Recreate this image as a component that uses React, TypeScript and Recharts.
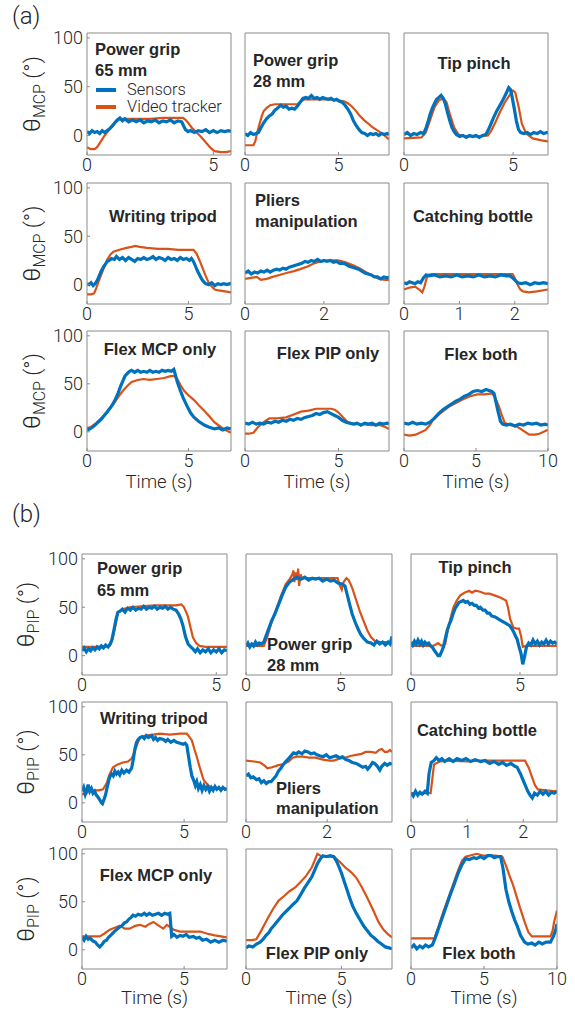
import { LineChart, Line, XAxis, YAxis, Legend } from "recharts";

// ---- data: [time (s), angle (deg)] ----

// (a) MCP joint
const aGrip65Sensors = [[0,4],[0.1,2],[0.2,5],[0.3,3],[0.4,4],[0.5,2],[0.6,5],[0.7,3],[0.8,5],[0.9,7],[1.0,10],[1.1,13],[1.2,16],[1.3,18],[1.4,15],[1.5,17],[1.65,14],[1.8,16],[1.95,14],[2.1,16],[2.25,13],[2.4,15],[2.55,14],[2.7,16],[2.85,13],[3.0,15],[3.15,14],[3.3,16],[3.45,13],[3.6,15],[3.75,14],[3.82,10],[3.9,6],[4.0,4],[4.1,5],[4.25,3],[4.4,5],[4.55,4],[4.7,6],[4.85,3],[5.0,5],[5.15,3],[5.3,5],[5.45,4],[5.6,5],[5.7,4]];
const aGrip65Video = [[0,-12],[0.15,-14],[0.3,-14],[0.4,-12],[0.55,-6],[0.7,0],[0.85,5],[1.0,9],[1.15,14],[1.3,17],[1.5,17],[2,17],[2.5,17],[3,18],[3.5,18],[3.8,18],[3.9,16],[4.0,13],[4.15,8],[4.3,4],[4.5,-1],[4.7,-7],[4.9,-13],[5.05,-16],[5.3,-17],[5.5,-17],[5.7,-16]];

const aGrip28Sensors = [[0,2],[0.15,0],[0.3,3],[0.45,1],[0.6,2],[0.72,3],[0.85,8],[1.0,13],[1.15,17],[1.3,20],[1.45,22],[1.6,26],[1.75,28],[1.9,31],[2.05,29],[2.2,30],[2.35,27],[2.5,28],[2.65,27],[2.8,30],[2.95,34],[3.1,38],[3.25,39],[3.4,38],[3.55,41],[3.7,38],[3.85,39],[4.0,37],[4.15,39],[4.3,38],[4.45,37],[4.6,38],[4.75,36],[4.9,37],[5.05,35],[5.2,34],[5.35,31],[5.5,27],[5.65,22],[5.8,15],[5.95,10],[6.1,6],[6.25,3],[6.4,2],[6.55,0],[6.7,2],[6.85,1],[7.0,2],[7.15,0],[7.3,2],[7.45,1],[7.6,2],[7.7,1]];
const aGrip28Video = [[0,-10],[0.3,-10],[0.45,-10],[0.55,-6],[0.65,3],[0.75,10],[0.9,20],[1.0,25],[1.15,28],[1.35,31],[1.6,32],[2.0,32],[2.4,32],[2.8,32],[3.0,35],[3.2,37],[3.5,37],[4.0,37],[4.5,37],[5.0,36],[5.3,35],[5.5,33],[5.7,30],[5.9,26],[6.1,21],[6.35,16],[6.6,12],[6.85,8],[7.1,5],[7.4,1],[7.7,-4]];

const aTipSensors = [[0,1],[0.15,3],[0.3,0],[0.45,2],[0.6,1],[0.75,3],[0.9,2],[1.0,7],[1.1,14],[1.2,22],[1.3,28],[1.4,33],[1.5,37],[1.6,39],[1.7,41],[1.8,38],[1.9,32],[2.0,23],[2.1,15],[2.2,8],[2.3,4],[2.4,1],[2.55,-1],[2.7,0],[2.85,-2],[3.0,0],[3.15,-1],[3.3,0],[3.45,-2],[3.6,0],[3.75,1],[3.85,5],[3.95,10],[4.1,18],[4.25,25],[4.4,31],[4.55,37],[4.7,44],[4.8,49],[4.88,47],[4.95,40],[5.05,28],[5.15,15],[5.25,6],[5.35,3],[5.5,2],[5.65,3],[5.8,1],[5.95,3],[6.1,2],[6.25,4],[6.4,2],[6.55,3],[6.6,3]];
const aTipVideo = [[0,-3],[0.8,-2],[1.0,3],[1.2,16],[1.4,29],[1.6,36],[1.8,38],[1.95,34],[2.1,22],[2.3,8],[2.5,1],[2.8,-1],[3.5,-1],[3.85,0],[4.0,5],[4.2,14],[4.4,24],[4.6,33],[4.8,40],[5.0,46],[5.1,44],[5.25,30],[5.4,12],[5.6,2],[5.9,-3],[6.3,-5],[6.6,-6]];

const aWriteSensors = [[0,1],[0.1,0],[0.2,2],[0.3,-1],[0.4,1],[0.5,4],[0.6,9],[0.7,14],[0.8,18],[0.9,21],[1.0,24],[1.1,25],[1.2,27],[1.35,26],[1.45,29],[1.6,26],[1.75,28],[1.9,25],[2.05,28],[2.2,26],[2.35,24],[2.5,27],[2.65,26],[2.8,28],[2.95,26],[3.1,27],[3.25,29],[3.4,26],[3.55,28],[3.7,27],[3.85,25],[4.0,28],[4.15,26],[4.3,27],[4.45,25],[4.6,28],[4.75,26],[4.9,27],[5.05,25],[5.15,27],[5.25,24],[5.35,19],[5.45,14],[5.55,10],[5.65,6],[5.75,3],[5.85,1],[6.0,0],[6.15,2],[6.3,-1],[6.45,1],[6.6,0],[6.75,1],[6.9,0],[7.05,1],[7.1,0]];
const aWriteVideo = [[0,-10],[0.2,-10],[0.35,-9],[0.45,-4],[0.55,2],[0.7,10],[0.85,18],[1.0,26],[1.15,31],[1.3,34],[1.6,36],[1.95,38],[2.2,39],[2.37,40],[2.6,39],[2.95,38],[3.5,37],[4.0,37],[4.5,36],[5.0,36],[5.25,36],[5.4,32],[5.55,25],[5.7,17],[5.85,9],[6.0,2],[6.15,-2],[6.3,-5],[6.5,-6],[6.8,-7],[7.1,-8]];

const aPliersSensors = [[0,12],[0.08,14],[0.16,11],[0.24,13],[0.32,12],[0.4,14],[0.48,13],[0.56,15],[0.64,13],[0.72,15],[0.8,16],[0.88,15],[0.96,17],[1.04,16],[1.12,18],[1.2,19],[1.28,20],[1.36,21],[1.44,22],[1.52,24],[1.6,23],[1.68,25],[1.76,24],[1.84,26],[1.92,24],[2.0,25],[2.08,24],[2.16,25],[2.24,23],[2.32,24],[2.4,22],[2.48,22],[2.56,21],[2.64,19],[2.72,18],[2.8,17],[2.88,16],[2.96,14],[3.04,12],[3.12,11],[3.2,10],[3.28,8],[3.36,8],[3.44,6],[3.52,8],[3.6,7],[3.65,8]];
const aPliersVideo = [[0,6],[0.15,7],[0.3,8],[0.4,5],[0.55,6],[0.7,8],[0.87,10],[1.05,12],[1.24,14],[1.4,16],[1.6,19],[1.75,22],[1.9,24],[2.1,25],[2.36,25],[2.55,23],[2.74,20],[2.9,17],[3.1,12],[3.25,9],[3.4,6],[3.55,5],[3.65,5]];

const aBottleSensors = [[0,2],[0.05,1],[0.1,3],[0.15,2],[0.2,1],[0.25,3],[0.3,2],[0.35,7],[0.4,10],[0.45,9],[0.55,10],[0.65,8],[0.75,9],[0.85,8],[0.95,10],[1.05,8],[1.15,9],[1.25,8],[1.35,10],[1.45,8],[1.55,9],[1.65,8],[1.75,10],[1.85,9],[1.92,9],[1.98,6],[2.05,2],[2.12,1],[2.2,2],[2.28,0],[2.36,2],[2.44,1],[2.52,2],[2.6,1]];
const aBottleVideo = [[0,-5],[0.1,-3],[0.2,-2],[0.27,-5],[0.33,-8],[0.37,-2],[0.4,5],[0.43,10],[0.5,11],[0.8,11],[1.2,11],[1.6,11],[1.96,11],[2.0,7],[2.05,0],[2.1,-5],[2.15,-7],[2.25,-8],[2.4,-7],[2.6,-5]];

const aFlexMcpSensors = [[0,2],[0.15,3],[0.28,5],[0.4,7],[0.55,10],[0.7,13],[0.85,17],[1.0,21],[1.15,25],[1.28,29],[1.4,34],[1.53,40],[1.65,47],[1.77,53],[1.87,58],[2.0,61],[2.1,63],[2.2,64],[2.35,62],[2.5,64],[2.65,62],[2.8,63],[2.95,62],[3.1,64],[3.25,62],[3.4,63],[3.55,62],[3.7,64],[3.85,63],[4.0,64],[4.15,63],[4.28,65],[4.35,60],[4.45,52],[4.6,43],[4.75,35],[4.95,26],[5.1,20],[5.28,15],[5.5,11],[5.78,7],[6.0,5],[6.28,3],[6.5,4],[6.7,2],[6.9,4],[7.1,3]];
const aFlexMcpVideo = [[0,4],[0.2,5],[0.45,9],[0.7,14],[0.95,19],[1.15,25],[1.37,31],[1.6,38],[1.78,43],[2.0,48],[2.2,52],[2.5,54],[2.78,55],[3.1,54],[3.45,55],[3.8,56],[4.12,58],[4.3,58],[4.45,55],[4.6,49],[4.78,43],[5.0,38],[5.28,33],[5.5,28],[5.78,22],[6.0,17],[6.28,10],[6.6,5],[6.9,1],[7.1,-1]];

const aFlexPipSensors = [[0,9],[0.2,8],[0.4,10],[0.6,8],[0.8,9],[1.0,8],[1.2,10],[1.4,9],[1.6,11],[1.8,10],[2.0,12],[2.2,11],[2.4,13],[2.6,12],[2.8,14],[3.0,13],[3.2,15],[3.4,16],[3.6,17],[3.8,19],[4.0,18],[4.2,20],[4.4,21],[4.6,19],[4.8,17],[5.0,15],[5.2,12],[5.4,10],[5.6,9],[5.8,8],[6.0,9],[6.2,7],[6.4,9],[6.6,8],[6.8,9],[7.0,7],[7.2,9],[7.4,8],[7.6,9],[7.7,8]];
const aFlexPipVideo = [[0,-2],[0.2,-2],[0.45,-1],[0.7,5],[1.0,10],[1.3,14],[1.7,14],[2.2,15],[2.6,18],[3.0,21],[3.4,22],[3.8,24],[4.2,24],[4.6,24],[4.8,23],[5.0,20],[5.25,15],[5.5,10],[5.8,8],[6.3,8],[6.8,7],[7.2,7],[7.5,5],[7.7,3]];

const aFlexBothSensors = [[0,9],[0.3,8],[0.6,10],[0.9,8],[1.2,9],[1.5,8],[1.8,10],[2.1,14],[2.4,19],[2.7,23],[3.0,26],[3.3,29],[3.6,32],[3.9,34],[4.2,37],[4.5,39],[4.8,42],[5.1,43],[5.4,42],[5.7,44],[5.9,43],[6.1,42],[6.25,40],[6.4,30],[6.55,20],[6.7,11],[6.85,8],[7.1,7],[7.4,8],[7.7,6],[8.0,8],[8.3,7],[8.6,9],[8.9,8],[9.2,9],[9.5,7],[9.8,8],[10,7]];
const aFlexBothVideo = [[0,-3],[0.4,-4],[0.8,-3],[1.1,-1],[1.5,2],[1.8,7],[2.0,12],[2.5,19],[3.1,26],[3.6,30],[4.1,34],[4.6,37],[5.1,39],[5.6,39],[6.1,40],[6.3,37],[6.6,26],[6.8,17],[7.0,9],[7.4,7],[7.9,5],[8.3,1],[8.7,-3],[9.1,-3],[9.4,-2],[9.7,0],[10,2]];

// (b) PIP joint
const bGrip65Sensors = [[0,5],[0.08,8],[0.16,4],[0.24,7],[0.32,5],[0.4,8],[0.48,6],[0.56,9],[0.64,7],[0.72,10],[0.8,8],[0.88,11],[0.97,9],[1.05,12],[1.12,17],[1.2,28],[1.27,38],[1.34,45],[1.42,46],[1.5,48],[1.6,45],[1.7,49],[1.8,47],[1.9,50],[2.0,47],[2.1,49],[2.2,48],[2.3,51],[2.4,48],[2.5,50],[2.6,49],[2.7,51],[2.8,48],[2.9,50],[3.0,49],[3.1,51],[3.2,48],[3.3,50],[3.4,48],[3.5,47],[3.6,43],[3.68,38],[3.76,31],[3.85,20],[3.95,12],[4.05,9],[4.13,7],[4.22,4],[4.3,7],[4.4,3],[4.5,6],[4.6,4],[4.7,7],[4.8,3],[4.9,6],[5.0,4],[5.1,7],[5.2,3],[5.3,6],[5.4,5]];
const bGrip65Video = [[0,9],[0.5,9],[1.03,10],[1.1,14],[1.15,19],[1.25,32],[1.34,45],[1.5,48],[1.77,50],[2.2,51],[2.7,52],[3.2,52],[3.5,52],[3.7,53],[3.8,50],[3.88,45],[3.95,40],[4.05,28],[4.13,19],[4.25,13],[4.38,10],[4.6,9],[5.0,9],[5.4,9]];

const bGrip28Sensors = [[0,10],[0.1,13],[0.2,9],[0.3,12],[0.4,10],[0.5,14],[0.6,11],[0.7,13],[0.8,12],[0.94,14],[1.05,20],[1.2,28],[1.35,36],[1.52,43],[1.7,52],[1.9,62],[2.1,71],[2.3,76],[2.5,79],[2.69,81],[2.9,79],[3.1,81],[3.3,78],[3.5,80],[3.66,79],[3.85,80],[4.05,77],[4.25,79],[4.45,77],[4.64,78],[4.85,75],[5.05,74],[5.22,72],[5.35,62],[5.48,52],[5.6,43],[5.75,35],[5.9,28],[6.05,22],[6.2,18],[6.4,14],[6.6,13],[6.75,11],[6.9,15],[7.05,12],[7.2,14],[7.35,11],[7.5,14],[7.6,12],[7.7,20]];
const bGrip28Video = [[0,10],[0.5,10],[0.94,10],[1.1,18],[1.33,33],[1.6,48],[1.85,62],[2.1,74],[2.3,79],[2.45,84],[2.5,88],[2.55,76],[2.62,86],[2.69,78],[2.75,90],[2.8,72],[2.88,84],[2.95,80],[3.3,80],[3.66,80],[4.2,80],[4.6,80],[4.83,80],[4.95,72],[5.05,68],[5.15,76],[5.3,80],[5.42,78],[5.6,70],[5.8,58],[6.0,46],[6.2,36],[6.4,26],[6.6,19],[6.8,15],[7.1,14],[7.4,14],[7.7,13]];

const bTipSensors = [[0,14],[0.08,11],[0.16,15],[0.24,12],[0.32,16],[0.4,12],[0.48,15],[0.56,11],[0.64,14],[0.72,12],[0.81,13],[0.9,10],[1.0,8],[1.08,5],[1.15,3],[1.24,0],[1.32,0],[1.4,4],[1.49,9],[1.58,18],[1.66,26],[1.75,32],[1.83,36],[1.93,43],[2.03,49],[2.12,52],[2.2,55],[2.3,56],[2.4,57],[2.5,55],[2.6,56],[2.7,53],[2.8,54],[2.9,52],[3.0,52],[3.1,49],[3.18,50],[3.3,47],[3.4,47],[3.5,44],[3.6,44],[3.7,41],[3.86,40],[4.0,38],[4.15,36],[4.3,34],[4.45,32],[4.53,31],[4.62,28],[4.7,25],[4.8,20],[4.87,17],[4.95,10],[5.05,2],[5.13,-9],[5.2,-2],[5.3,9],[5.4,13],[5.5,11],[5.6,16],[5.7,12],[5.8,15],[5.9,11],[6.0,14],[6.1,12],[6.2,16],[6.3,12],[6.4,15],[6.5,13],[6.6,14],[6.7,12]];
const bTipVideo = [[0,10],[0.5,10],[0.98,10],[1.1,11],[1.24,13],[1.35,11],[1.45,10],[1.57,12],[1.7,28],[1.83,40],[1.95,50],[2.1,57],[2.25,62],[2.45,65],[2.67,67],[2.8,65],[2.95,67],[3.18,66],[3.4,64],[3.6,64],[3.86,62],[4.1,60],[4.36,57],[4.45,50],[4.55,38],[4.7,29],[4.85,28],[4.96,28],[5.05,20],[5.13,9],[5.3,10],[5.7,10],[6.2,10],[6.7,10]];

const bWriteSensors = [[0,12],[0.08,16],[0.16,9],[0.24,14],[0.3,19],[0.38,12],[0.46,15],[0.54,10],[0.62,12],[0.7,8],[0.78,6],[0.87,3],[0.95,0],[1.0,-1],[1.07,3],[1.15,8],[1.22,15],[1.3,22],[1.36,27],[1.45,30],[1.53,28],[1.61,33],[1.69,30],[1.77,32],[1.85,29],[1.95,34],[2.05,31],[2.18,34],[2.3,32],[2.43,36],[2.51,45],[2.59,56],[2.67,63],[2.75,66],[2.84,68],[2.95,69],[3.05,67],[3.15,70],[3.25,68],[3.41,70],[3.5,66],[3.6,68],[3.7,65],[3.8,67],[3.98,66],[4.1,64],[4.2,66],[4.35,63],[4.5,65],[4.64,63],[4.8,62],[4.95,61],[5.05,62],[5.13,60],[5.22,48],[5.3,37],[5.38,28],[5.46,24],[5.55,18],[5.62,22],[5.7,15],[5.79,19],[5.88,13],[5.97,18],[6.06,14],[6.15,17],[6.24,12],[6.33,16],[6.42,13],[6.51,17],[6.6,14],[6.7,16],[6.8,13],[6.9,16],[7.0,14],[7.1,15]];
const bWriteVideo = [[0,9],[0.2,9],[0.3,12],[0.54,13],[0.8,13],[1.03,14],[1.2,20],[1.36,30],[1.52,37],[1.75,40],[2.0,42],[2.25,43],[2.43,46],[2.59,54],[2.72,62],[2.84,68],[3.1,70],[3.5,71],[3.8,72],[4.3,71],[4.8,72],[5.13,72],[5.25,69],[5.38,65],[5.5,56],[5.62,48],[5.75,38],[5.95,24],[6.1,20],[6.3,16],[6.6,15],[6.9,15],[7.1,14]];

const bPliersSensors = [[0,28],[0.06,30],[0.12,26],[0.18,27],[0.26,24],[0.32,25],[0.38,21],[0.44,23],[0.5,20],[0.56,22],[0.62,22],[0.68,25],[0.74,28],[0.8,33],[0.86,36],[0.92,40],[0.98,43],[1.05,46],[1.11,49],[1.17,52],[1.24,51],[1.3,53],[1.38,51],[1.45,54],[1.53,53],[1.6,51],[1.68,52],[1.75,50],[1.82,49],[1.9,48],[1.98,50],[2.06,47],[2.14,48],[2.22,49],[2.3,47],[2.38,48],[2.46,45],[2.54,44],[2.62,42],[2.72,41],[2.8,39],[2.88,37],[2.95,38],[3.0,35],[3.06,38],[3.12,42],[3.17,41],[3.24,38],[3.3,34],[3.35,38],[3.42,41],[3.48,39],[3.55,41],[3.6,40]];
const bPliersVideo = [[0,44],[0.2,43],[0.35,42],[0.45,39],[0.53,36],[0.65,37],[0.78,39],[0.9,40],[1.05,43],[1.15,47],[1.26,48],[1.4,48],[1.55,47],[1.71,47],[1.9,45],[2.05,44],[2.17,44],[2.3,46],[2.44,47],[2.6,49],[2.72,50],[2.85,51],[2.95,53],[3.08,53],[3.2,52],[3.28,55],[3.35,56],[3.42,53],[3.49,53],[3.55,55],[3.6,53]];

const bBottleSensors = [[0,10],[0.04,7],[0.08,12],[0.12,8],[0.16,11],[0.2,9],[0.25,12],[0.29,10],[0.32,30],[0.36,42],[0.41,44],[0.45,47],[0.5,44],[0.55,46],[0.6,43],[0.68,46],[0.75,43],[0.82,46],[0.9,44],[0.98,46],[1.06,43],[1.14,45],[1.24,43],[1.32,44],[1.4,41],[1.48,43],[1.56,40],[1.63,42],[1.7,39],[1.78,41],[1.85,38],[1.89,37],[1.95,30],[2.0,23],[2.03,19],[2.08,12],[2.12,8],[2.16,5],[2.2,10],[2.25,8],[2.3,12],[2.35,9],[2.4,12],[2.45,8],[2.5,11],[2.55,10],[2.6,12]];
const bBottleVideo = [[0,10],[0.2,10],[0.35,10],[0.38,25],[0.41,40],[0.51,43],[0.7,44],[1.0,43],[1.3,44],[1.6,44],[1.9,44],[2.03,44],[2.1,36],[2.16,26],[2.21,18],[2.26,14],[2.4,13],[2.6,12]];

const bFlexMcpSensors = [[0,13],[0.1,10],[0.2,14],[0.3,11],[0.4,12],[0.54,9],[0.65,8],[0.76,5],[0.87,3],[1.0,6],[1.1,9],[1.2,10],[1.3,13],[1.45,16],[1.58,19],[1.69,21],[1.8,23],[1.95,25],[2.08,28],[2.18,29],[2.3,32],[2.42,34],[2.5,36],[2.62,35],[2.75,37],[2.9,36],[3.05,38],[3.16,36],[3.3,38],[3.45,36],[3.6,37],[3.75,38],[3.9,36],[4.05,38],[4.2,37],[4.3,38],[4.35,25],[4.39,14],[4.5,16],[4.65,13],[4.8,15],[4.95,14],[5.1,16],[5.25,13],[5.46,14],[5.6,12],[5.75,13],[5.9,10],[6.1,11],[6.3,8],[6.5,10],[6.7,8],[6.9,10],[7.1,9]];
const bFlexMcpVideo = [[0,14],[0.4,14],[0.87,14],[1.1,17],[1.36,21],[1.6,23],[1.85,25],[2.1,22],[2.34,22],[2.6,25],[2.84,26],[3.1,24],[3.3,27],[3.5,29],[3.7,26],[3.98,22],[4.15,26],[4.3,24],[4.48,21],[4.8,19],[5.3,19],[5.79,19],[5.95,18],[6.1,17],[6.5,15],[6.8,14],[7.1,13]];

const bFlexPipSensors = [[0,2],[0.15,4],[0.35,3],[0.55,6],[0.74,8],[0.9,11],[1.05,15],[1.2,18],[1.32,22],[1.5,26],[1.7,31],[1.9,36],[2.1,40],[2.3,44],[2.5,48],[2.67,51],[2.85,57],[3.05,64],[3.25,70],[3.45,76],[3.6,83],[3.75,90],[3.9,95],[4.03,98],[4.2,97],[4.4,98],[4.6,97],[4.75,92],[4.88,86],[5.0,80],[5.15,71],[5.3,62],[5.45,53],[5.58,46],[5.75,39],[5.95,32],[6.16,25],[6.35,20],[6.55,15],[6.74,12],[6.9,9],[7.1,6],[7.3,3],[7.5,2],[7.65,1]];
const bFlexPipVideo = [[0,10],[0.3,10],[0.54,11],[0.8,20],[1.12,32],[1.4,42],[1.7,51],[2.0,56],[2.28,61],[2.58,65],[2.87,71],[3.15,77],[3.45,86],[3.6,93],[3.74,100],[3.9,98],[4.2,97],[4.6,97],[4.9,92],[5.19,86],[5.5,81],[5.78,75],[6.05,66],[6.36,54],[6.65,42],[6.94,29],[7.2,21],[7.45,16],[7.65,13]];

const bFlexBothSensors = [[0,2],[0.2,5],[0.4,1],[0.6,4],[0.8,2],[1.0,5],[1.2,3],[1.46,5],[1.7,14],[1.95,25],[2.2,36],[2.45,47],[2.7,58],[2.95,68],[3.23,80],[3.5,89],[3.74,95],[4.0,94],[4.3,96],[4.5,95],[4.75,97],[5.0,95],[5.25,98],[5.5,98],[5.7,96],[5.9,97],[6.14,97],[6.3,85],[6.5,63],[6.7,50],[6.9,40],[7.1,31],[7.27,25],[7.5,15],[7.78,8],[8.0,6],[8.28,7],[8.5,5],[8.75,8],[9.0,6],[9.25,8],[9.55,8],[9.75,14],[9.9,20],[10,27]];
const bFlexBothVideo = [[0,12],[0.5,12],[1.0,12],[1.6,12],[1.9,25],[2.2,39],[2.7,60],[3.23,83],[3.5,93],[3.74,97],[4.5,100],[5.0,98],[5.76,98],[6.26,97],[6.5,88],[6.75,77],[7.0,67],[7.4,47],[7.78,29],[8.05,18],[8.28,14],[8.8,14],[9.55,14],[9.7,20],[9.8,29],[10,41]];

const Y_TICKS = [0, 50, 100];
const Y_DOMAIN = [-20, 105];
const TICKS_5 = [0, 5];
const TICKS_2 = [0, 2];
const TICKS_012 = [0, 1, 2];
const TICKS_10 = [0, 5, 10];
const LEGEND_ORDER = ["Sensors", "Video tracker"];

// ---- style ----
const BLUE = "#0072BD";
const ORANGE = "#D95319";
const BOX = "#8a8a8a";
const INK = "#262626";
const NUM_FONT = "Roboto, 'Liberation Sans', Arial, sans-serif";
const BOLD_FONT = "'Liberation Sans', Arial, Helvetica, sans-serif";

const AXW = 52; // left axis band
const MT = 12; // room above the box so the "100" label is not clipped
const MR = 14;
const XH = 26;

const numTick = { fill: INK, fontSize: 18, fontFamily: NUM_FONT, fontWeight: 300 };

type Series = number[][];
type Box = [number, number, number, number];

const A_COLS = [[87, 231], [245, 389], [404, 548]];
const A_ROWS = [[33, 155], [183, 304], [331, 451]];
const B_COLS = [[82, 227], [246, 392], [411, 557]];
const B_ROWS = [[554, 675], [702, 822], [849, 969]];

const boxOf = (cols: number[][], rows: number[][], r: number, c: number): Box =>
  [cols[c][0], rows[r][0], cols[c][1], rows[r][1]];

function LegendContent({ payload }: any) {
  const items = [...(payload || [])].sort(
    (a: any, b: any) => LEGEND_ORDER.indexOf(a.value) - LEGEND_ORDER.indexOf(b.value),
  );
  return (
    <div style={{ fontFamily: NUM_FONT, fontWeight: 300, fontSize: 16.5, color: INK }}>
      {items.map((p: any) => (
        <div key={p.value} style={{ display: "flex", alignItems: "center", height: 17, whiteSpace: "nowrap" }}>
          <span style={{ display: "inline-block", width: 20, height: 4, background: p.color, marginRight: 11 }} />
          {p.value}
        </div>
      ))}
    </div>
  );
}

function Panel({
  box, xMax, xTicks, sensors, video, yLabels, legend,
}: {
  box: Box; xMax: number; xTicks: number[]; sensors: Series; video: Series; yLabels?: boolean; legend?: boolean;
}) {
  const [l, t, r, b] = box;
  const w = r - l;
  const h = b - t;
  const sData = sensors.map(([x, v]) => ({ t: x, v }));
  const vData = video.map(([x, v]) => ({ t: x, v }));
  return (
    <div style={{ position: "absolute", left: l - AXW, top: t - MT - 1 }}>
      <LineChart width={AXW + w + 1 + MR} height={MT + 1 + h + XH} margin={{ top: MT, right: MR, bottom: 0, left: 0 }}>
        <XAxis xAxisId="b" type="number" dataKey="t" domain={[0, xMax]} ticks={xTicks} allowDataOverflow interval={0}
          height={XH} tickSize={-3} tickMargin={6} stroke={BOX} tick={numTick} />
        <XAxis xAxisId="t" orientation="top" type="number" dataKey="t" domain={[0, xMax]} ticks={xTicks} allowDataOverflow
          interval={0} height={1} tickSize={-3} tick={false} stroke={BOX} />
        <YAxis yAxisId="l" type="number" domain={Y_DOMAIN} ticks={Y_TICKS} allowDataOverflow interval={0} width={AXW}
          tickSize={-3} tickMargin={7} stroke={BOX} tick={yLabels ? numTick : false} />
        <YAxis yAxisId="r" orientation="right" type="number" domain={Y_DOMAIN} ticks={Y_TICKS} allowDataOverflow interval={0}
          width={1} tickSize={-3} tick={false} stroke={BOX} />
        {legend && (
          <Legend layout="vertical" align="center" verticalAlign="middle" content={<LegendContent />}
            wrapperStyle={{ left: 96 - l + AXW, top: 90 - t + MT + 1 - 9, width: "auto", height: "auto" }} />
        )}
        <Line xAxisId="b" yAxisId="l" data={vData} dataKey="v" name="Video tracker" type="linear" stroke={ORANGE}
          strokeWidth={2.2} dot={false} isAnimationActive={false} />
        <Line xAxisId="b" yAxisId="l" data={sData} dataKey="v" name="Sensors" type="linear" stroke={BLUE}
          strokeWidth={3.2} dot={false} isAnimationActive={false} />
      </LineChart>
    </div>
  );
}

const panels = [
  { box: boxOf(A_COLS, A_ROWS, 0, 0), xMax: 5.7, xTicks: TICKS_5, sensors: aGrip65Sensors, video: aGrip65Video, yLabels: true, legend: true },
  { box: boxOf(A_COLS, A_ROWS, 0, 1), xMax: 7.7, xTicks: TICKS_5, sensors: aGrip28Sensors, video: aGrip28Video },
  { box: boxOf(A_COLS, A_ROWS, 0, 2), xMax: 6.6, xTicks: TICKS_5, sensors: aTipSensors, video: aTipVideo },
  { box: boxOf(A_COLS, A_ROWS, 1, 0), xMax: 7.1, xTicks: TICKS_5, sensors: aWriteSensors, video: aWriteVideo, yLabels: true },
  { box: boxOf(A_COLS, A_ROWS, 1, 1), xMax: 3.65, xTicks: TICKS_2, sensors: aPliersSensors, video: aPliersVideo },
  { box: boxOf(A_COLS, A_ROWS, 1, 2), xMax: 2.6, xTicks: TICKS_012, sensors: aBottleSensors, video: aBottleVideo },
  { box: boxOf(A_COLS, A_ROWS, 2, 0), xMax: 7.1, xTicks: TICKS_5, sensors: aFlexMcpSensors, video: aFlexMcpVideo, yLabels: true },
  { box: boxOf(A_COLS, A_ROWS, 2, 1), xMax: 7.7, xTicks: TICKS_5, sensors: aFlexPipSensors, video: aFlexPipVideo },
  { box: boxOf(A_COLS, A_ROWS, 2, 2), xMax: 10, xTicks: TICKS_10, sensors: aFlexBothSensors, video: aFlexBothVideo },
  { box: boxOf(B_COLS, B_ROWS, 0, 0), xMax: 5.4, xTicks: TICKS_5, sensors: bGrip65Sensors, video: bGrip65Video, yLabels: true },
  { box: boxOf(B_COLS, B_ROWS, 0, 1), xMax: 7.7, xTicks: TICKS_5, sensors: bGrip28Sensors, video: bGrip28Video },
  { box: boxOf(B_COLS, B_ROWS, 0, 2), xMax: 6.7, xTicks: TICKS_5, sensors: bTipSensors, video: bTipVideo },
  { box: boxOf(B_COLS, B_ROWS, 1, 0), xMax: 7.1, xTicks: TICKS_5, sensors: bWriteSensors, video: bWriteVideo, yLabels: true },
  { box: boxOf(B_COLS, B_ROWS, 1, 1), xMax: 3.6, xTicks: TICKS_2, sensors: bPliersSensors, video: bPliersVideo },
  { box: boxOf(B_COLS, B_ROWS, 1, 2), xMax: 2.6, xTicks: TICKS_012, sensors: bBottleSensors, video: bBottleVideo },
  { box: boxOf(B_COLS, B_ROWS, 2, 0), xMax: 7.1, xTicks: TICKS_5, sensors: bFlexMcpSensors, video: bFlexMcpVideo, yLabels: true },
  { box: boxOf(B_COLS, B_ROWS, 2, 1), xMax: 7.65, xTicks: TICKS_5, sensors: bFlexPipSensors, video: bFlexPipVideo },
  { box: boxOf(B_COLS, B_ROWS, 2, 2), xMax: 10, xTicks: TICKS_10, sensors: bFlexBothSensors, video: bFlexBothVideo },
];

// panel titles: [text, x, y, anchor]
const titles: [string, number, number, "start" | "middle"][] = [
  ["Power grip", 95, 49, "start"], ["65 mm", 95, 70, "start"],
  ["Power grip", 253, 60, "start"], ["28 mm", 253, 81, "start"],
  ["Tip pinch", 474, 63, "middle"],
  ["Writing tripod", 163, 216, "middle"],
  ["Pliers", 255, 200, "start"], ["manipulation", 255, 221, "start"],
  ["Catching bottle", 473, 216, "middle"],
  ["Flex MCP only", 160, 349, "middle"],
  ["Flex PIP only", 328, 353, "middle"],
  ["Flex both", 481, 354, "middle"],
  ["Power grip", 97, 568, "start"], ["65 mm", 97, 590, "start"],
  ["Power grip", 267, 644, "start"], ["28 mm", 267, 665, "start"],
  ["Tip pinch", 475, 567, "middle"],
  ["Writing tripod", 154, 718, "middle"],
  ["Pliers", 276, 788, "start"], ["manipulation", 276, 808, "start"],
  ["Catching bottle", 477, 730, "middle"],
  ["Flex MCP only", 156, 875, "middle"],
  ["Flex PIP only", 317, 953, "middle"],
  ["Flex both", 479, 953, "middle"],
];

function YLabel({ x, y, sub }: { x: number; y: number; sub: string }) {
  return (
    <text x={x} y={y} transform={`rotate(-90 ${x} ${y})`} textAnchor="middle" fill={INK} fontFamily={NUM_FONT} fontWeight={300}>
      <tspan fontSize={24}>θ</tspan>
      <tspan fontSize={16} dy={5}>{sub}</tspan>
      <tspan fontSize={22} dy={-5}> (°)</tspan>
    </text>
  );
}

export default function App() {
  const rowMid = (rows: number[][], r: number) => (rows[r][0] + rows[r][1]) / 2;
  const colMid = (cols: number[][], c: number) => (cols[c][0] + cols[c][1]) / 2;
  return (
    <div style={{ position: "absolute", left: 0, top: 0, width: 575, height: 1015, background: "#fff", overflow: "hidden" }}>
      {panels.map((p, i) => (
        <Panel key={i} {...p} />
      ))}
      <svg width={575} height={1015} style={{ position: "absolute", left: 0, top: 0, pointerEvents: "none" }}>
        <text x={12} y={16} dominantBaseline="central" fontSize={24} fontFamily={NUM_FONT} fontWeight={300} fill={INK}>(a)</text>
        <text x={12} y={514} dominantBaseline="central" fontSize={24} fontFamily={NUM_FONT} fontWeight={300} fill={INK}>(b)</text>
        {[0, 1, 2].map((r) => (
          <YLabel key={`ya${r}`} x={40} y={rowMid(A_ROWS, r)} sub="MCP" />
        ))}
        {[0, 1, 2].map((r) => (
          <YLabel key={`yb${r}`} x={34} y={rowMid(B_ROWS, r)} sub="PIP" />
        ))}
        {titles.map(([s, x, y, anchor], i) => (
          <text key={i} x={x} y={y} textAnchor={anchor} dominantBaseline="central" fontSize={16.5}
            fontFamily={BOLD_FONT} fontWeight={700} fill={INK}>{s}</text>
        ))}
        {[0, 1, 2].map((c) => (
          <text key={`ta${c}`} x={colMid(A_COLS, c)} y={482} textAnchor="middle" dominantBaseline="central"
            fontSize={18.5} fontFamily={NUM_FONT} fontWeight={300} fill={INK}>Time (s)</text>
        ))}
        {[0, 1, 2].map((c) => (
          <text key={`tb${c}`} x={colMid(B_COLS, c)} y={998} textAnchor="middle" dominantBaseline="central"
            fontSize={18.5} fontFamily={NUM_FONT} fontWeight={300} fill={INK}>Time (s)</text>
        ))}
      </svg>
    </div>
  );
}
